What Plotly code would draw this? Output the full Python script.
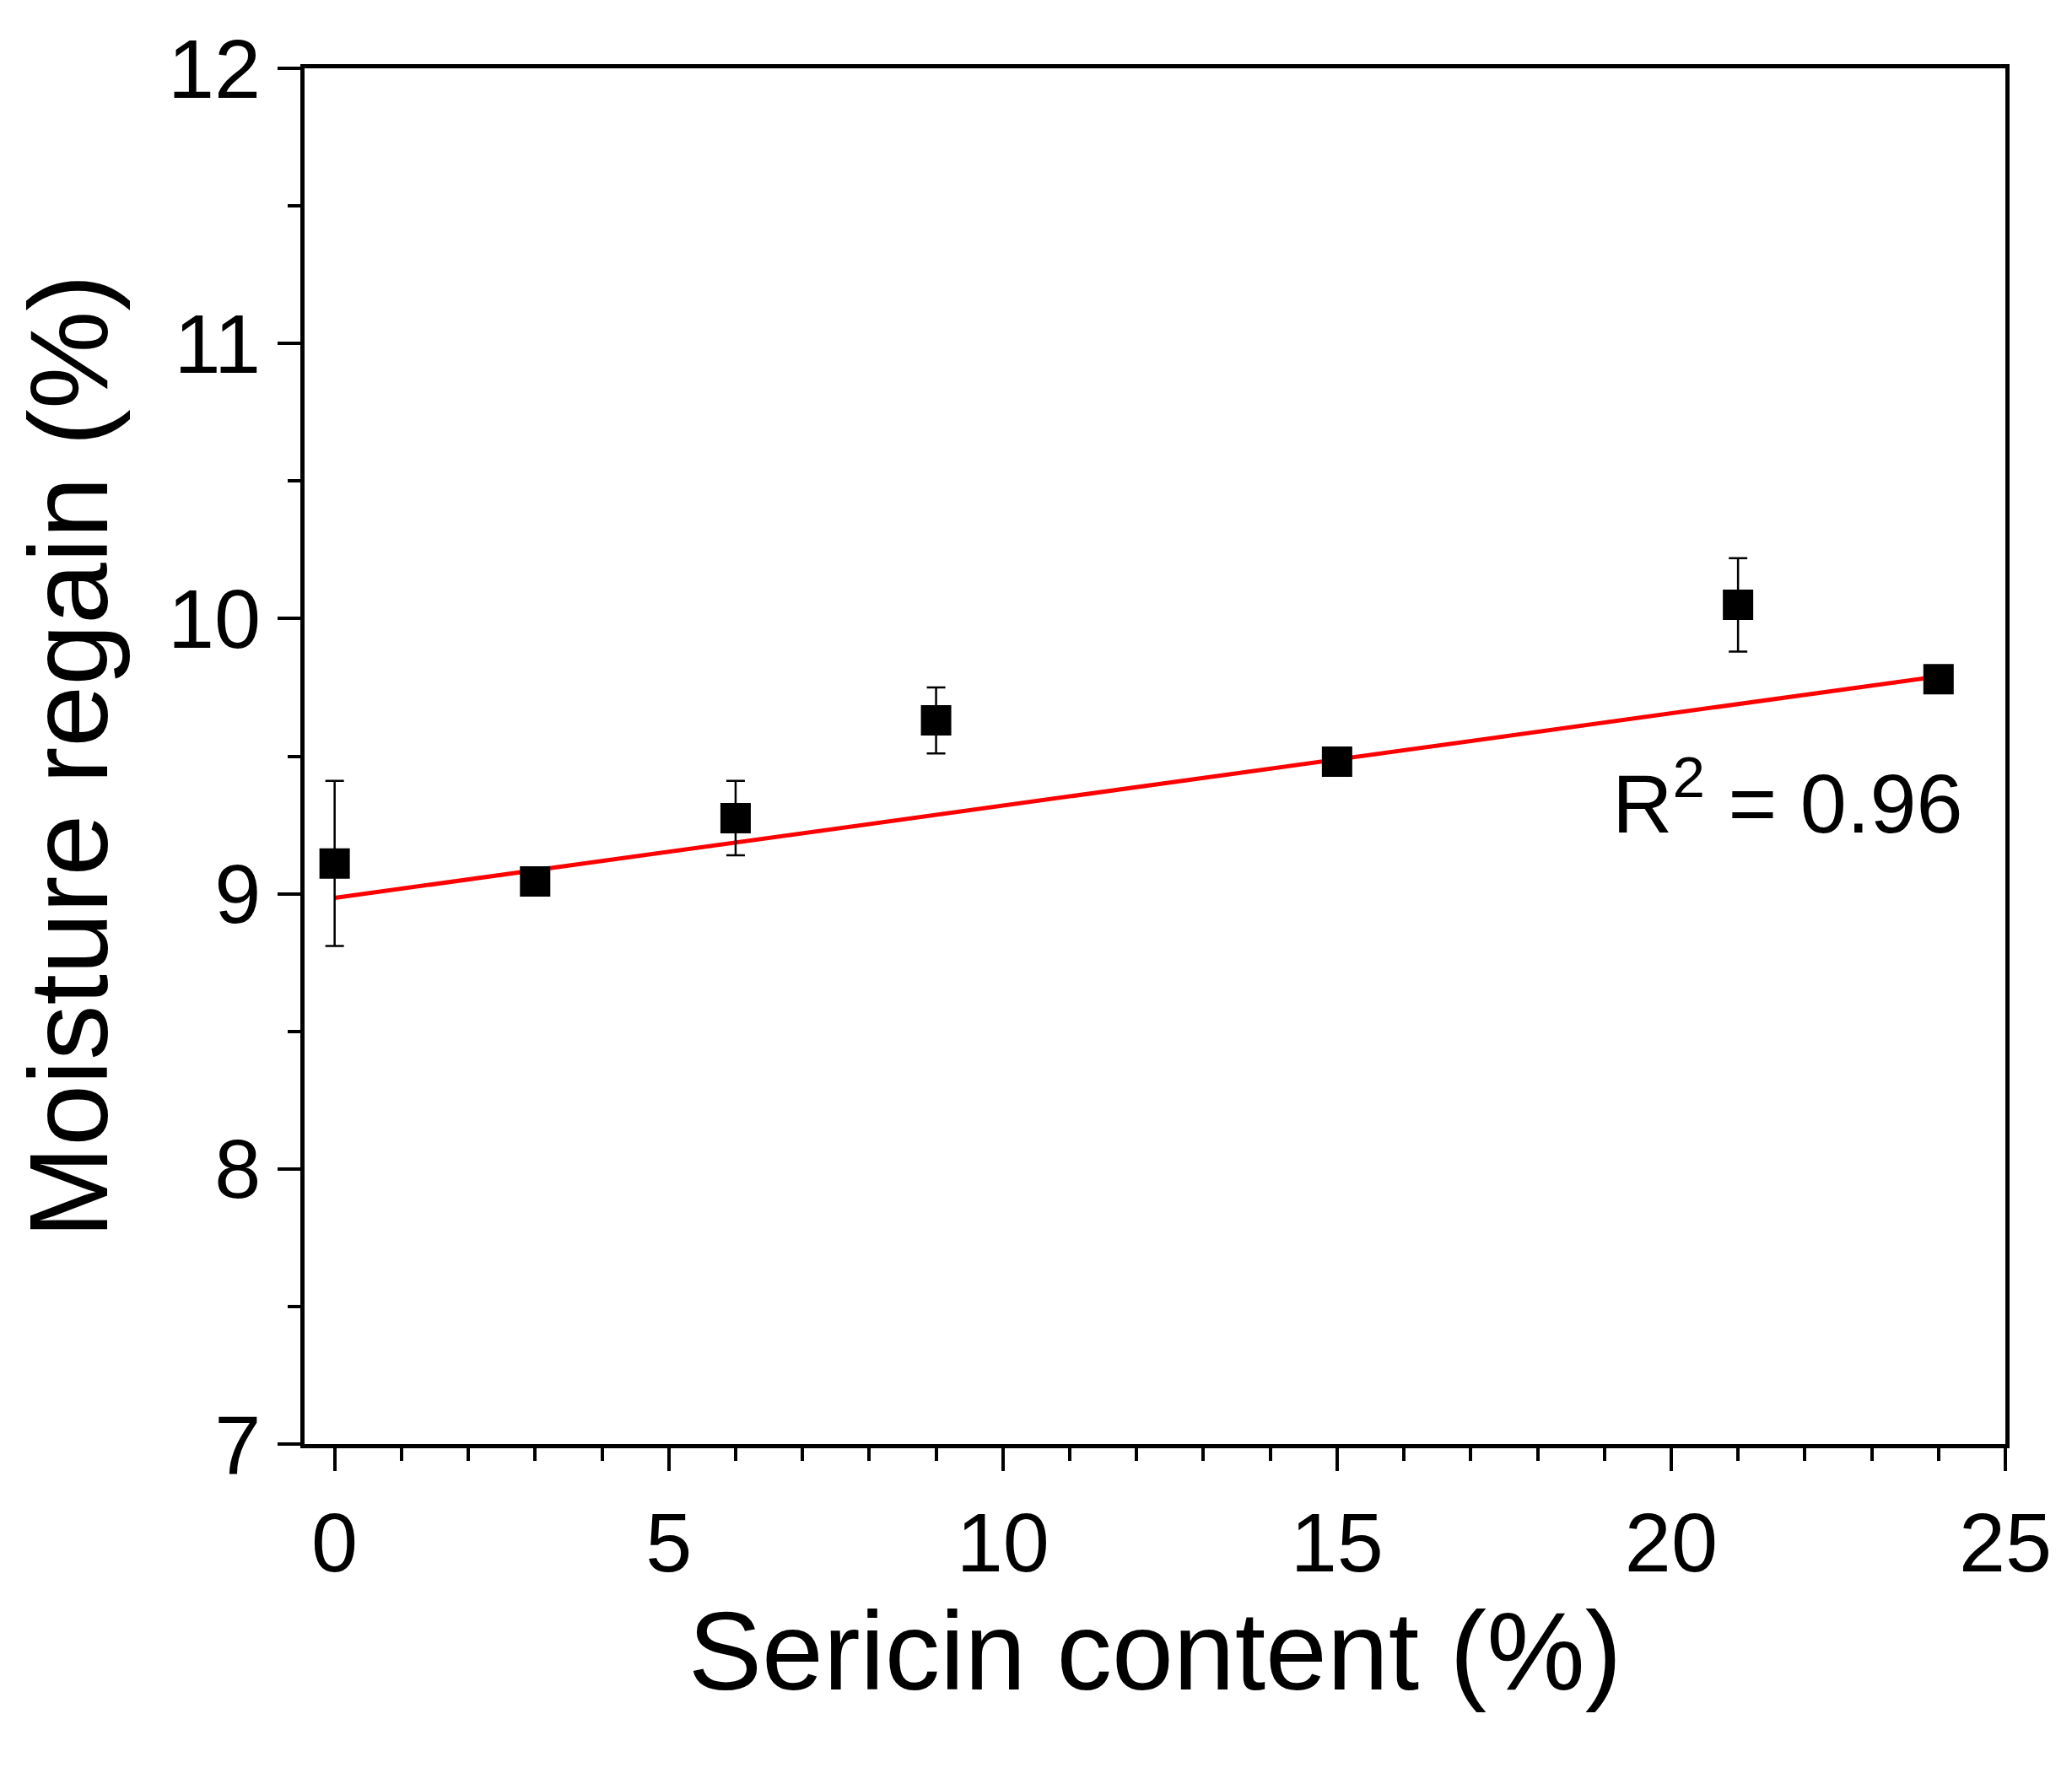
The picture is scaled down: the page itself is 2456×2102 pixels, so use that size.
import plotly.graph_objects as go

sericin = [0, 3, 6, 9, 15, 21, 24]
regain = [9.11, 9.045, 9.275, 9.63, 9.48, 10.05, 9.78]
regain_err = [0.30, 0.03, 0.135, 0.12, 0.02, 0.17, 0.02]
fit_x = [0, 24]
fit_y = [8.985, 9.79]

font = "Liberation Sans, Arial, sans-serif"

fig = go.Figure()
fig.add_trace(go.Scatter(
    x=fit_x, y=fit_y, mode="lines",
    line=dict(color="#ff0000", width=5), showlegend=False
))
fig.add_trace(go.Scatter(
    x=sericin, y=regain, mode="markers",
    marker=dict(symbol="square", size=36, color="black"),
    error_y=dict(type="data", array=regain_err, color="black", thickness=2.5, width=11),
    showlegend=False
))
fig.add_annotation(x=24.4, y=9.35, text="R<sup>2</sup> = 0.96", showarrow=False,
                   xanchor="right", font=dict(family=font, size=99, color="black"))

axis_common = dict(showline=True, linecolor="black", linewidth=5, mirror=True,
                   ticks="outside", ticklen=27, tickwidth=4, tickcolor="black",
                   showgrid=False, zeroline=False,
                   tickfont=dict(family=font, size=99, color="black"))
fig.update_xaxes(range=[-0.45, 25], tick0=0, dtick=5,
                 minor=dict(ticks="outside", ticklen=15, tickwidth=4, dtick=1, tickcolor="black"),
                 title=dict(text="Sericin content (%)", font=dict(family=font, size=131, color="black"), standoff=30),
                 **axis_common)
fig.update_yaxes(range=[7, 12], tick0=7, dtick=1,
                 minor=dict(ticks="outside", ticklen=15, tickwidth=4, dtick=0.5, tickcolor="black"),
                 title=dict(text="Moisture regain (%)", font=dict(family=font, size=131, color="black"), standoff=30),
                 **axis_common)
fig.update_layout(width=2456, height=2102, plot_bgcolor="white", paper_bgcolor="white",
                  margin=dict(l=353, r=87, t=73, b=398))
fig.write_html("out.html")
